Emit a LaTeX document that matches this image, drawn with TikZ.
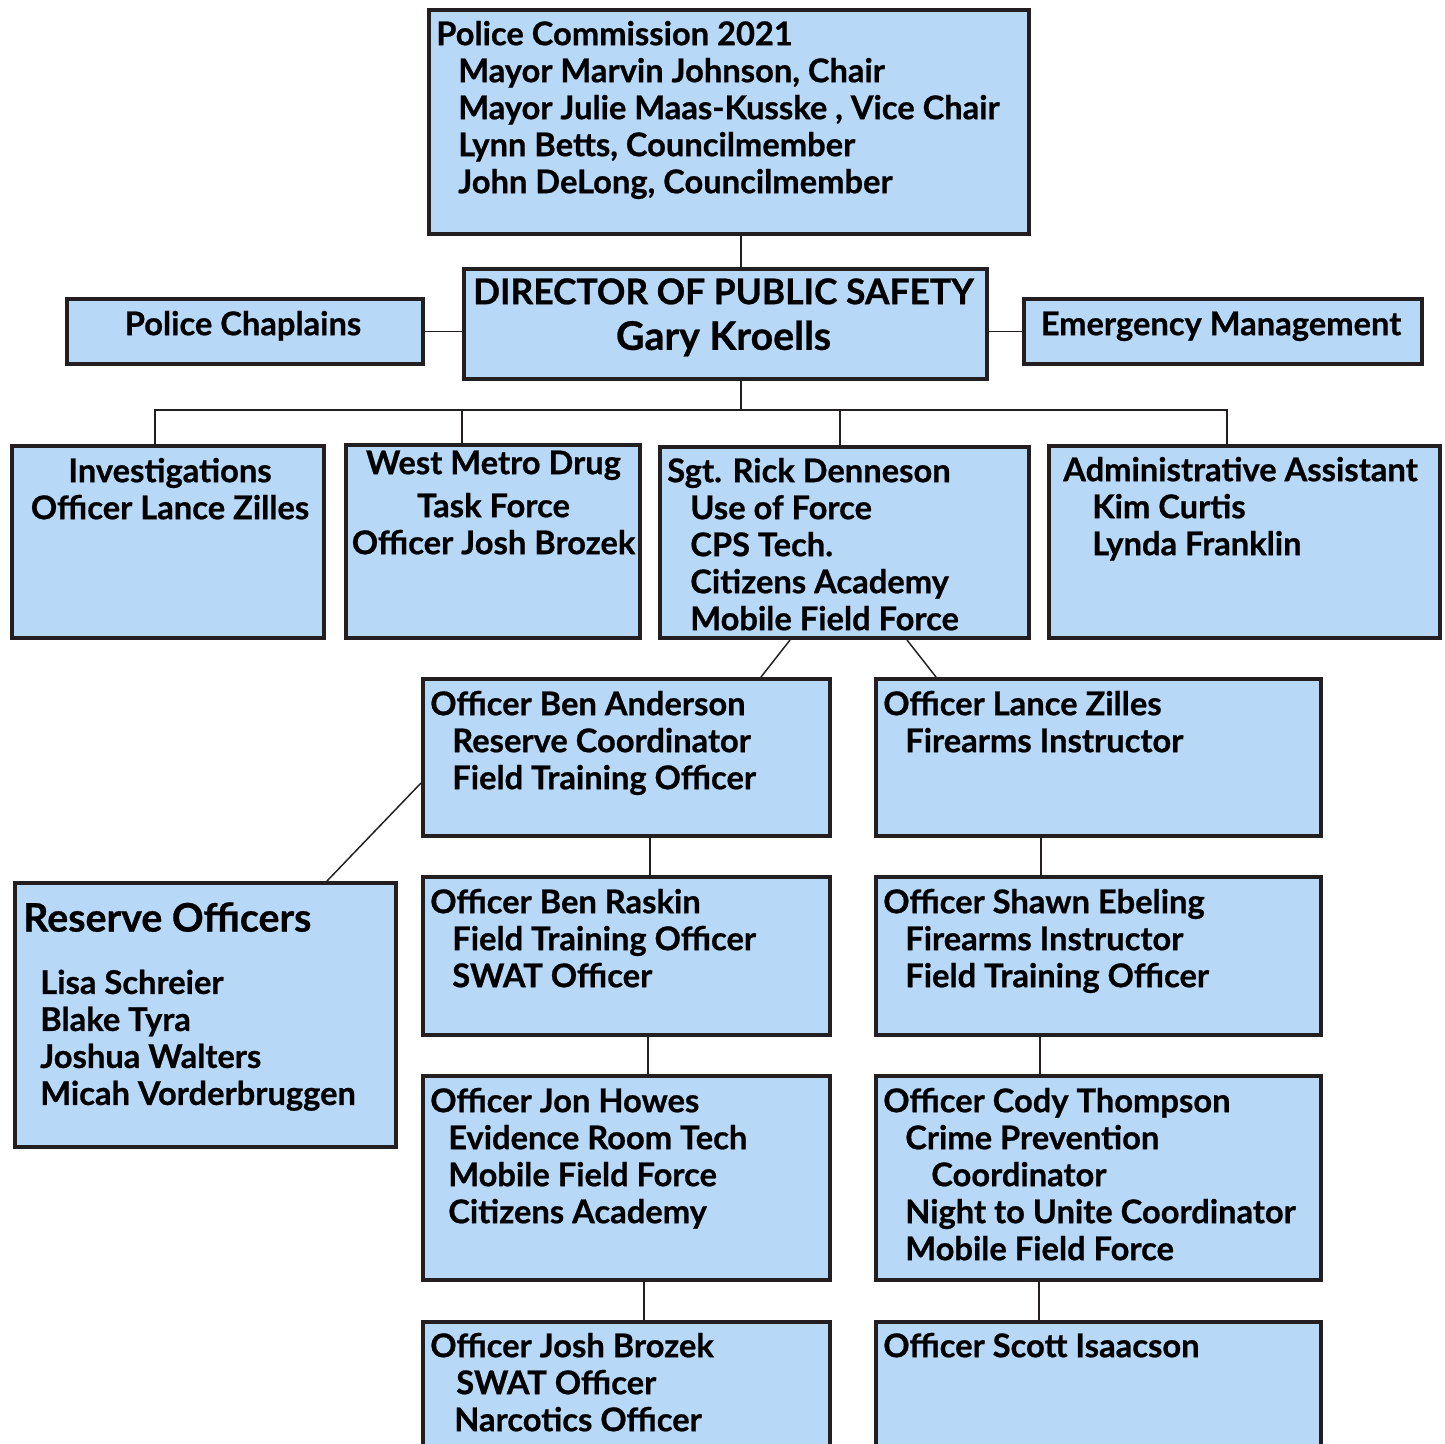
\documentclass[tikz,border=0pt]{standalone}
\usepackage{fontspec}
\setmainfont{Lato}[BoldFeatures={FakeBold=0.7}]
\usetikzlibrary{calc}

\definecolor{boxfill}{RGB}{183,216,247}
\definecolor{boxline}{RGB}{35,31,32}

\newcommand{\bodyfont}{\fontsize{24.5pt}{27.75pt}\selectfont\bfseries}
\newcommand{\bigfont}{\fontsize{29.5pt}{30pt}\selectfont\bfseries}
\newcommand{\capsfont}{\fontsize{26.5pt}{27.75pt}\selectfont\bfseries}
\newcommand{\indt}[1][16.5pt]{\hspace*{#1}}

\begin{document}
\begin{tikzpicture}[x=0.75pt,y=-0.75pt,
    orgbox/.style={draw=boxline, line width=3pt, fill=boxfill, anchor=north west, inner sep=0pt},
    wh/.style 2 args={minimum width=#1*0.75pt, minimum height=#2*0.75pt},
    txt/.style={anchor=north west, inner sep=0pt, align=left, font=\bodyfont},
    ctxt/.style={anchor=north, inner sep=0pt, align=center, font=\bodyfont},
    link/.style={draw=boxline, line width=1.1pt}]

  \useasboundingbox (0,0) rectangle (1445,1443);

  % Top of the chart
  \node[orgbox, wh={600}{224}] (comm) at (427,8) {};
  \node[orgbox, wh={523}{110}] (dir) at (462,267) {};
  \node[orgbox, wh={356}{65}] (chap) at (65,297) {};
  \node[orgbox, wh={398}{65}] (emer) at (1022,297) {};

  % Second row
  \node[orgbox, wh={312}{192}] (inv) at (10,444) {};
  \node[orgbox, wh={294}{193}] (wmd) at (344,443) {};
  \node[orgbox, wh={369}{191}] (sgt) at (658,445) {};
  \node[orgbox, wh={391}{192}] (adm) at (1047,444) {};

  % Officers, left column
  \node[orgbox, wh={407}{157}] (anders) at (421,677) {};
  \node[orgbox, wh={407}{158}] (raskin) at (421,875) {};
  \node[orgbox, wh={407}{204}] (howes) at (421,1074) {};
  \node[orgbox, wh={407}{160}] (brozek) at (421,1320) {};

  % Officers, right column
  \node[orgbox, wh={445}{157}] (zilles) at (874,677) {};
  \node[orgbox, wh={445}{158}] (ebel) at (874,875) {};
  \node[orgbox, wh={445}{204}] (thomp) at (874,1074) {};
  \node[orgbox, wh={445}{160}] (isaac) at (874,1320) {};

  % Reserves
  \node[orgbox, wh={381}{264}] (res) at (13,881) {};

  % Connections
  \coordinate (trunk) at (741,0);
  \coordinate (busW) at (155,410);
  \coordinate (busE) at (1227,410);
  \coordinate (tapW) at (462,410);
  \coordinate (tapS) at (840,410);
  \draw[link] (comm.south -| trunk) -- (dir.north -| trunk);
  \draw[link] (chap.east) -- (chap.east -| dir.west);
  \draw[link] (dir.east |- emer.west) -- (emer.west);
  \draw[link] (dir.south -| trunk) -- (busW -| trunk);
  \draw[link] (inv.north -| busW) -- (busW) -- (busE) -- (adm.north -| busE);
  \draw[link] (tapW) -- (wmd.north -| tapW);
  \draw[link] (tapS) -- (sgt.north -| tapS);

  \draw[link] ($(sgt.south)+(-54.5,0)$) -- ($(anders.north)+(134.5,0)$);
  \draw[link] ($(sgt.south)+(62.5,0)$) -- ($(zilles.north)+(-162.5,0)$);
  \draw[link] ($(anders.west)+(0,25.5)$) -- ($(res.north)+(121.5,0)$);

  \draw[link] ($(anders.south)+(23.5,0)$) -- ($(raskin.north)+(23.5,0)$);
  \draw[link] ($(raskin.south)+(21.5,0)$) -- ($(howes.north)+(21.5,0)$);
  \draw[link] ($(howes.south)+(17.5,0)$) -- ($(brozek.north)+(17.5,0)$);
  \draw[link] ($(zilles.south)+(-57.5,0)$) -- ($(ebel.north)+(-57.5,0)$);
  \draw[link] ($(ebel.south)+(-58.5,0)$) -- ($(thomp.north)+(-58.5,0)$);
  \draw[link] ($(thomp.south)+(-59.5,0)$) -- ($(isaac.north)+(-59.5,0)$);

  % Texts
  \node[txt] (comm-t) at (436,19) {\strut Police Commission 2021\\
    \indt Mayor Marvin Johnson, Chair\\
    \indt Mayor Julie Maas-Kusske , Vice Chair\\
    \indt Lynn Betts, Councilmember\\
    \indt John DeLong, Councilmember};
  \node[ctxt] (dir-t) at (723.5,278) {\strut{\capsfont DIRECTOR OF PUBLIC SAFETY}\\[3pt]
    {\bigfont Gary Kroells}};
  \node[ctxt] (chap-t) at (243,309) {\strut Police Chaplains};
  \node[ctxt] (emer-t) at (1221,309) {\strut Emergency Management};

  \node[ctxt] (inv-t) at (170,456) {\strut Investigations\\ Officer Lance Zilles};
  \node[ctxt] (wmd-t) at (493.5,448) {\strut West Metro Drug\\[4.5pt] Task Force\\ Officer Josh Brozek};
  \node[txt] (sgt-t) at (667,456) {\strut Sgt. Rick Denneson\\
    \indt[17.25pt]Use of Force\\
    \indt[17.25pt]CPS Tech.\\
    \indt[17.25pt]Citizens Academy\\
    \indt[17.25pt]Mobile Field Force};
  \node[txt] (adm-t) at (1063,455) {\strut Administrative Assistant\\
    \indt[21.75pt]Kim Curtis\\
    \indt[21.75pt]Lynda Franklin};

  \node[txt] (anders-t) at (430,689) {\strut Officer Ben Anderson\\
    \indt Reserve Coordinator\\
    \indt Field Training Officer};
  \node[txt] (raskin-t) at (430,887) {\strut Officer Ben Raskin\\
    \indt Field Training Officer\\
    \indt SWAT Officer};
  \node[txt] (howes-t) at (430,1086) {\strut Officer Jon Howes\\
    \indt[13.5pt]Evidence Room Tech\\
    \indt[13.5pt]Mobile Field Force\\
    \indt[13.5pt]Citizens Academy};
  \node[txt] (brozek-t) at (430,1331) {\strut Officer Josh Brozek\\
    \indt[19.5pt]SWAT Officer\\
    \indt[18pt]Narcotics Officer};

  \node[txt] (zilles-t) at (883,689) {\strut Officer Lance Zilles\\
    \indt Firearms Instructor};
  \node[txt] (ebel-t) at (883,887) {\strut Officer Shawn Ebeling\\
    \indt Firearms Instructor\\
    \indt Field Training Officer};
  \node[txt] (thomp-t) at (883,1086) {\strut Officer Cody Thompson\\
    \indt Crime Prevention\\
    \indt[36pt]Coordinator\\
    \indt Night to Unite Coordinator\\
    \indt Mobile Field Force};
  \node[txt] (isaac-t) at (883,1331) {\strut Officer Scott Isaacson};

  \node[txt] (res-t) at (23,902) {\strut{\bigfont Reserve Officers}\\[19pt]
    \indt[12.75pt]Lisa Schreier\\
    \indt[12.75pt]Blake Tyra\\
    \indt[12.75pt]Joshua Walters\\
    \indt[12.75pt]Micah Vorderbruggen};
\end{tikzpicture}
\end{document}
